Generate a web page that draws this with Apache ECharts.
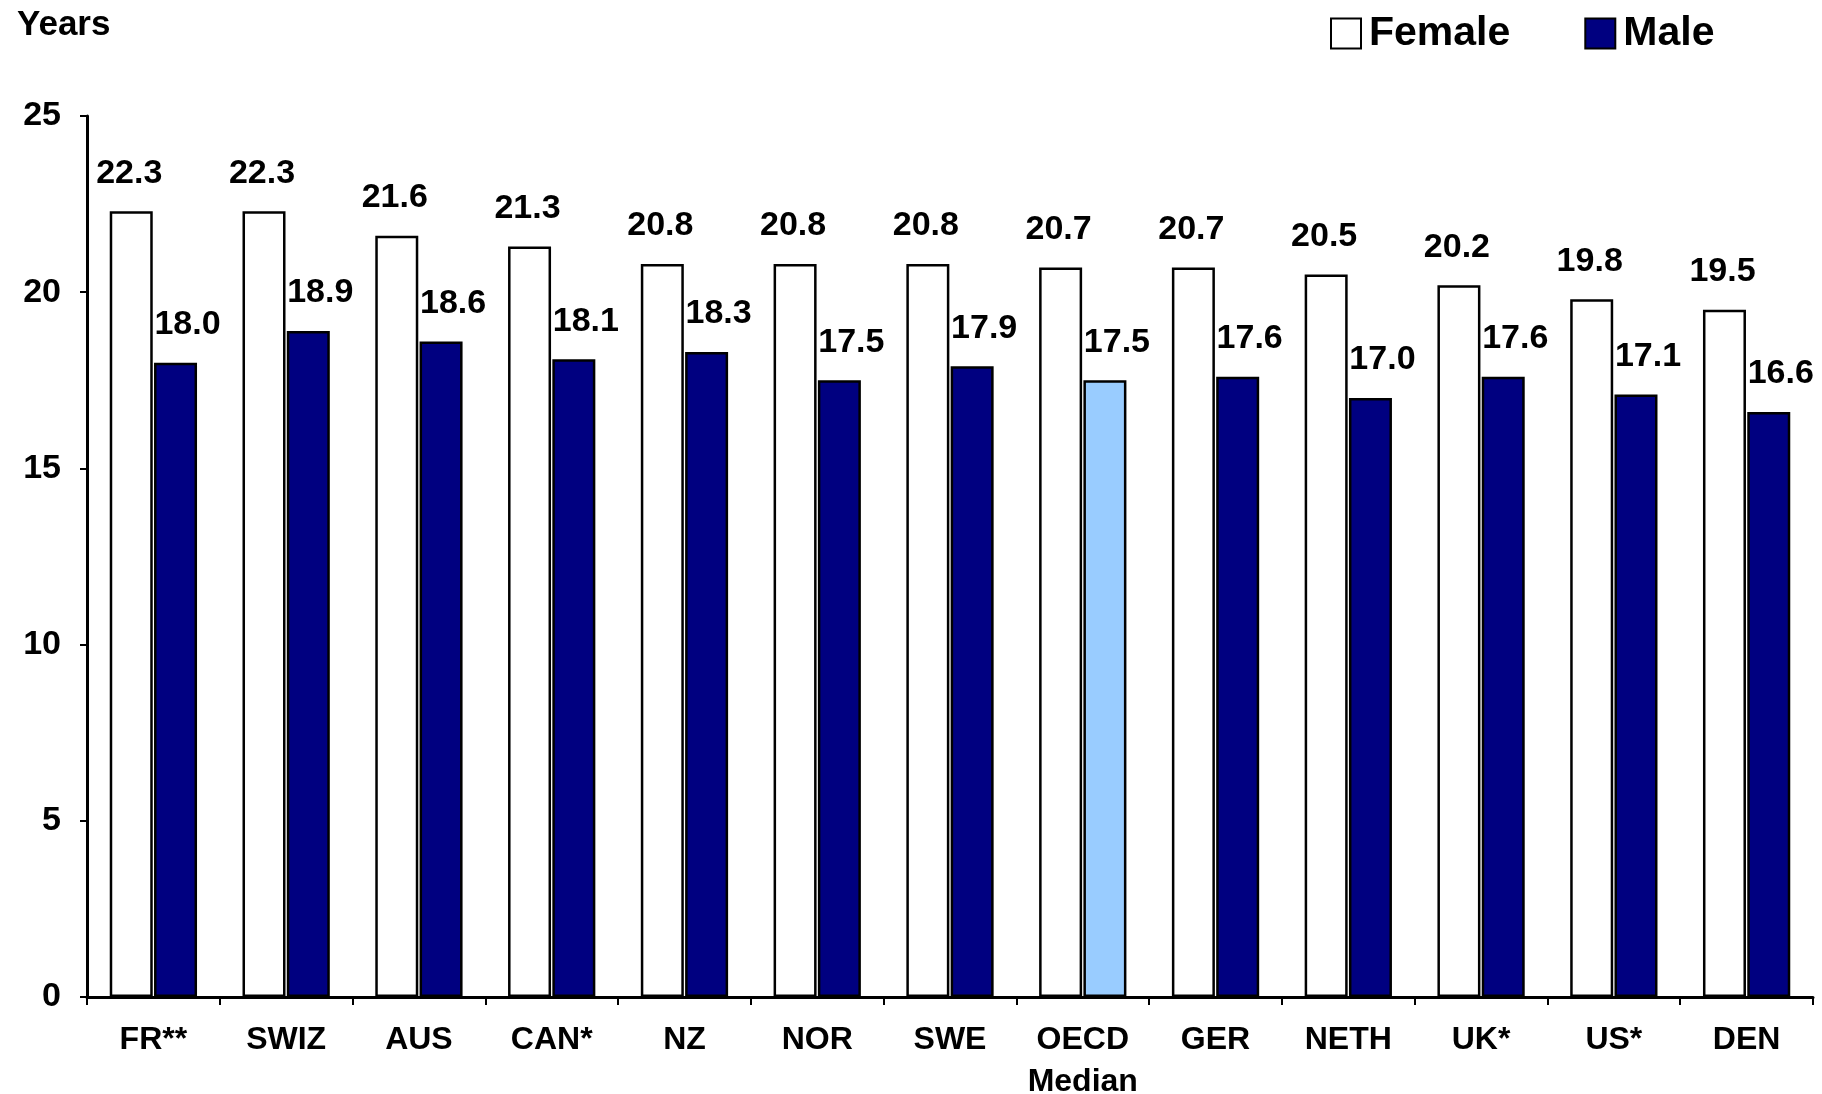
<!DOCTYPE html>
<html>
<head>
<meta charset="utf-8">
<script src="https://cdn.jsdelivr.net/npm/echarts@6/dist/echarts.min.js"></script>
<style>
  html, body { margin: 0; padding: 0; background: #fff; }
  #chart { width: 1822px; height: 1094px; }
</style>
</head>
<body>
<div id="chart"></div>
<script>
const categories = ['FR**', 'SWIZ', 'AUS', 'CAN*', 'NZ', 'NOR', 'SWE', 'OECD\nMedian', 'GER', 'NETH', 'UK*', 'US*', 'DEN']
const female = [22.3, 22.3, 21.6, 21.3, 20.8, 20.8, 20.8, 20.7, 20.7, 20.5, 20.2, 19.8, 19.5]
const male = [18.0, 18.9, 18.6, 18.1, 18.3, 17.5, 17.9, 17.5, 17.6, 17.0, 17.6, 17.1, 16.6]
const medianIndex = 7

const font = '"Liberation Sans", Arial, sans-serif'
const navy = '#000080'
const lightBlue = '#99CCFF'

const chart = echarts.init(document.getElementById('chart'))

const valueLabel = (dx) => ({
  show: true,
  position: 'top',
  distance: 21,
  offset: [dx, 0],
  color: '#000',
  fontFamily: font,
  fontWeight: 'bold',
  fontSize: 34,
  formatter: (p) => p.value.toFixed(1),
})

chart.setOption({
  animation: false,
  title: {
    text: 'Years',
    left: 12,
    top: 3,
    textStyle: { fontFamily: font, fontWeight: 'bold', fontSize: 35, color: '#000' },
  },
  legend: {
    left: 1325,
    top: 8,
    itemWidth: 30,
    itemHeight: 30,
    itemGap: 74,
    icon: 'rect',
    textStyle: { fontFamily: font, fontWeight: 'bold', fontSize: 41, color: '#000', padding: [0, 0, 0, 3] },
    data: ['Female', 'Male'],
  },
  grid: { left: 87, right: 9, top: 116, bottom: 97, containLabel: false, outerBoundsMode: 'none' },
  xAxis: {
    type: 'category',
    data: categories,
    axisLine: { lineStyle: { color: '#000', width: 3 } },
    axisTick: { show: true, length: 8, lineStyle: { color: '#000', width: 2 } },
    axisLabel: {
      color: '#000',
      fontFamily: font,
      fontWeight: 'bold',
      fontSize: 32,
      lineHeight: 42,
      margin: 22,
      interval: 0,
    },
  },
  yAxis: {
    type: 'value',
    min: 0,
    max: 25,
    interval: 5,
    splitLine: { show: false },
    axisLine: { show: true, lineStyle: { color: '#000', width: 3 } },
    axisTick: { show: true, length: 7, lineStyle: { color: '#000', width: 2 } },
    axisLabel: {
      color: '#000',
      fontFamily: font,
      fontWeight: 'bold',
      fontSize: 34,
      margin: 26,
    },
  },
  series: [
    {
      name: 'Female',
      type: 'bar',
      data: female,
      barWidth: 43,
      barGap: '3%',
      itemStyle: { color: '#fff', borderColor: '#000', borderWidth: 2.5 },
      label: valueLabel(-2),
    },
    {
      name: 'Male',
      type: 'bar',
      data: male.map((v, i) => i === medianIndex
        ? { value: v, itemStyle: { color: lightBlue } }
        : v),
      barWidth: 43,
      itemStyle: { color: navy, borderColor: '#000', borderWidth: 2.5 },
      label: valueLabel(12),
    },
  ],
})
</script>
</body>
</html>
